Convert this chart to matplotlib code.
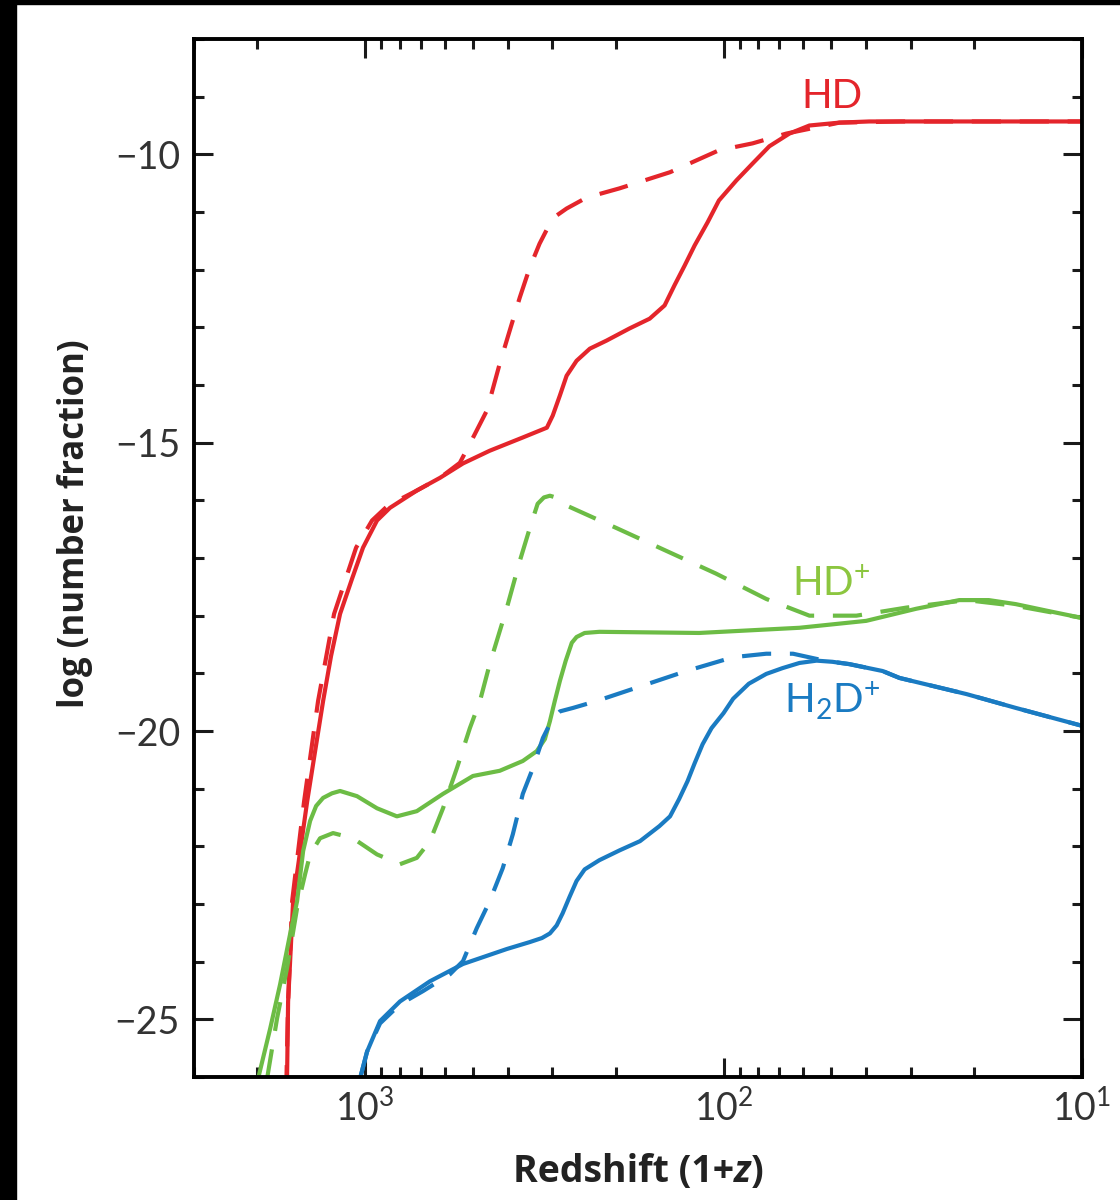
import matplotlib
matplotlib.use("Agg")
import matplotlib.pyplot as plt
from matplotlib.patches import Rectangle
from matplotlib.ticker import LogLocator, MultipleLocator, NullFormatter, FixedLocator

plt.rcParams['font.family'] = ['Lato', 'DejaVu Sans']
plt.rcParams['mathtext.fontset'] = 'custom'
plt.rcParams['mathtext.rm'] = 'Lato'
plt.rcParams['mathtext.it'] = 'Lato:italic'
plt.rcParams['mathtext.bf'] = 'Lato:bold'
plt.rcParams['mathtext.default'] = 'regular'

# redshift (1+z) and log number fraction, solid and dashed model for each species
hd_z = [1650, 1639, 1587, 1450, 1378, 1309, 1244, 1174, 1087, 1013, 926, 852, 717, 618, 533,
        449, 363, 311, 299.5, 286, 274, 257, 236, 212, 183, 160.7, 146, 137, 128.4, 120.4, 110.8,
        103, 92, 83, 74.5, 65.5, 57.6, 47.5, 39.2, 10]
hd_f = [-26.0, -24.69, -22.95, -21.22, -20.35, -19.48, -18.70, -17.97, -17.36, -16.82, -16.35,
        -16.13, -15.83, -15.61, -15.36, -15.14, -14.91, -14.74, -14.53, -14.18, -13.84, -13.58,
        -13.37, -13.23, -13.02, -12.85, -12.62, -12.27, -11.93, -11.58, -11.18, -10.80, -10.45,
        -10.16, -9.86, -9.64, -9.50, -9.45, -9.43, -9.43]

hd_alt_z = [1660, 1639, 1597, 1479, 1352, 1220, 1059, 956, 863, 717, 618, 544, 510, 457, 421,
            395, 370, 347, 326, 305, 292, 274, 241, 195, 141, 103, 83, 66.8, 47.5, 32, 10]
hd_alt_f = [-26.3, -24.69, -22.95, -21.22, -19.48, -17.97, -16.82, -16.35, -16.09, -15.83, -15.61,
            -15.35, -15.02, -14.44, -13.63, -13.06, -12.48, -11.96, -11.55, -11.20, -11.06, -10.94,
            -10.75, -10.59, -10.31, -9.93, -9.81, -9.64, -9.45, -9.43, -9.43]

hdp_z = [1986, 1839, 1725, 1618, 1547, 1488, 1423, 1369, 1309, 1236, 1174, 1053, 926, 815, 717,
         606, 500, 421, 363, 332, 315, 305, 295.6, 286, 275.5, 265, 257, 244, 222, 117, 61.4, 40,
         29, 22, 18.2, 15.3, 12.4, 10]
hdp_f = [-26.02, -25.16, -24.39, -23.52, -22.95, -22.08, -21.56, -21.30, -21.16, -21.08, -21.04,
         -21.13, -21.34, -21.48, -21.39, -21.09, -20.78, -20.69, -20.52, -20.35, -20.14, -19.83,
         -19.48, -19.13, -18.78, -18.47, -18.37, -18.30, -18.28, -18.30, -18.21, -18.09, -17.88,
         -17.73, -17.73, -17.80, -17.92, -18.04]

hdp_alt_z = [1875, 1759, 1650, 1547, 1469, 1423, 1335, 1228, 1080, 926, 799, 717, 659, 606, 554,
             510, 478, 449, 402, 370, 347, 330, 317, 305, 294, 281, 199, 144, 105, 76, 57.6, 42.6,
             30.9, 21, 15.3, 10]
hdp_alt_f = [-26.02, -24.98, -24.11, -23.07, -22.48, -22.14, -21.86, -21.77, -21.86, -22.14, -22.31,
             -22.20, -21.91, -21.34, -20.64, -19.95, -19.48, -18.84, -17.86, -17.05, -16.48, -16.06,
             -15.95, -15.92, -15.95, -16.06, -16.48, -16.88, -17.27, -17.71, -18.00, -18.00, -17.86,
             -17.73, -17.83, -18.04]

h2dp_z = [1032, 987, 908, 799, 659, 533, 402, 347, 321, 305, 292, 281, 269, 257, 244, 222, 195,
          171, 151, 141, 133, 126, 120.4, 114.4, 108, 100, 94, 85, 76, 68.5, 61.4, 55, 49.7, 44.6,
          36, 32.3, 21, 15.3, 10]
h2dp_f = [-26.02, -25.56, -25.03, -24.69, -24.34, -24.04, -23.78, -23.66, -23.59, -23.51, -23.37,
          -23.16, -22.88, -22.60, -22.40, -22.24, -22.07, -21.91, -21.65, -21.48, -21.18, -20.87,
          -20.56, -20.23, -19.95, -19.69, -19.44, -19.18, -19.01, -18.91, -18.82, -18.78, -18.80,
          -18.84, -18.96, -19.08, -19.36, -19.60, -19.91]

h2dp_alt_z = [1032, 987, 908, 799, 689, 580, 533, 488, 449, 413, 387, 363, 340, 319, 300, 286,
              263, 226, 179, 127, 94, 76, 64, 55, 49.7, 44.6, 36, 32.3, 21, 15.3, 10]
h2dp_alt_f = [-26.02, -25.56, -25.07, -24.74, -24.51, -24.22, -23.99, -23.42, -22.95, -22.38,
              -21.79, -21.09, -20.64, -20.12, -19.79, -19.66, -19.60, -19.48, -19.27, -18.96,
              -18.72, -18.66, -18.66, -18.75, -18.80, -18.84, -18.96, -19.08, -19.36, -19.60, -19.91]

red = '#e4252b'
green = '#6cbc45'
green_txt = '#8cc63f'
blue = '#1a7bc2'
label_font = ['Open Sans', 'DejaVu Sans']

fig = plt.figure(figsize=(11.2, 12), dpi=100)
ax = fig.add_axes([0.1732, 0.1025, 0.7929, 0.865])

lw = 3.0
dash = (7, 4.5)
ax.plot(hd_z, hd_f, color=red, lw=lw)
ax.plot(hd_alt_z, hd_alt_f, color=red, lw=lw, dashes=dash)
ax.plot(hdp_z, hdp_f, color=green, lw=lw)
ax.plot(hdp_alt_z, hdp_alt_f, color=green, lw=lw, dashes=dash)
ax.plot(h2dp_z, h2dp_f, color=blue, lw=lw)
ax.plot(h2dp_alt_z, h2dp_alt_f, color=blue, lw=lw, dashes=dash)

ax.set_xscale('log')
ax.set_xlim(3000, 10)
ax.set_ylim(-26, -8)

ax.xaxis.set_major_locator(FixedLocator([1000, 100, 10]))
ax.xaxis.set_minor_locator(LogLocator(base=10, subs=range(2, 10)))
ax.xaxis.set_minor_formatter(NullFormatter())
ax.yaxis.set_major_locator(FixedLocator([-10, -15, -20, -25]))
ax.yaxis.set_minor_locator(MultipleLocator(1))
ax.set_yticklabels(['\u221210', '\u221215', '\u221220', '\u221225'])

for s in ax.spines.values():
    s.set_linewidth(2.8)
ax.tick_params(which='both', direction='in', top=True, right=True, width=2.2, colors='#1a1a1a',
               labelcolor='#333333', labelsize=27)
ax.tick_params(which='major', length=14)
ax.tick_params(which='minor', length=7.5)
ax.tick_params(axis='x', pad=9)
ax.tick_params(axis='y', pad=10)

# x label built from pieces so that z can be bold italic
lab_kw = dict(fontweight='bold', color='#222222', family=label_font)
t1 = ax.text(0.5, -0.073, 'Redshift (1+', transform=ax.transAxes, ha='center', va='top',
             fontsize=27, **lab_kw)
fig.canvas.draw()
t2 = ax.annotate('z', xy=(1, 0), xycoords=t1, ha='left', va='bottom', fontstyle='italic',
                 fontsize=27, **lab_kw)
t3 = ax.annotate(')', xy=(1, 0), xycoords=t2, ha='left', va='bottom', fontsize=27, **lab_kw)
# recentre the whole label under the axes
fig.canvas.draw()
r = fig.canvas.get_renderer()
w1 = t1.get_window_extent(r).width
w_all = t3.get_window_extent(r).x1 - t1.get_window_extent(r).x0
ax_box = ax.get_window_extent(r)
cx = (ax_box.x0 + ax_box.x1) / 2 - w_all / 2 + w1 / 2
t1.set_x((cx - ax_box.x0) / ax_box.width)

ax.set_ylabel('log (number fraction)', fontsize=25, **lab_kw)
ax.yaxis.set_label_coords(-0.114, 0.533)

ax.text(60.7, -9.20, 'HD', color=red, fontsize=29, ha='left', va='baseline')
ax.text(64.3, -17.66, r'HD$^{+}$', color=green_txt, fontsize=29, ha='left', va='baseline')
ax.text(67.6, -19.70, r'H$_{2}$D$^{+}$', color=blue, fontsize=29, ha='left', va='baseline')

# dark frame strips along the top and left edges
fig.add_artist(Rectangle((0, 1 - 4 / 1200), 1, 4 / 1200, transform=fig.transFigure,
                         color='black', zorder=10))
fig.add_artist(Rectangle((0, 0), 16 / 1120, 1, transform=fig.transFigure,
                         color='black', zorder=10))

fig.savefig('out.png', dpi=100)
